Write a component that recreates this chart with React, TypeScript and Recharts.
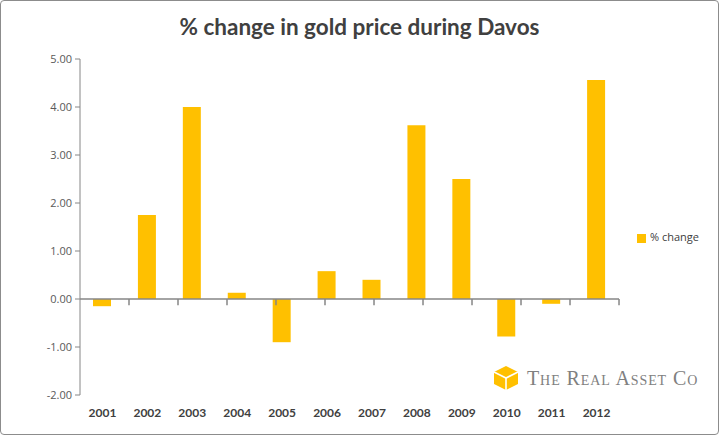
import React from 'react';
import { BarChart, Bar, XAxis, YAxis, Legend, ReferenceLine } from 'recharts';

const years = ['2001', '2002', '2003', '2004', '2005', '2006', '2007', '2008', '2009', '2010', '2011', '2012'];
const pctChange = [-0.15, 1.75, 4.0, 0.13, -0.9, 0.58, 0.4, 3.62, 2.5, -0.78, -0.1, 4.56];
const yTicks = [-2, -1, 0, 1, 2, 3, 4, 5];
const boundaries = [1, 2, 3, 4, 5, 6, 7, 8, 9, 10, 11, 12];

const data = years.map((year, i) => ({ year, change: pctChange[i] }));

const GOLD = '#FFC000';
const AXIS = '#868686';

const Logo = () => (
    <div style={{ position: 'absolute', left: 492, top: 365, display: 'flex', alignItems: 'center' }}>
        <svg width={28} height={26} viewBox="0 0 28 26">
            <polygon points="14,1 26,7 26,19 14,25 2,19 2,7" fill={GOLD} />
            <polyline points="2,7 14,13 26,7" fill="none" stroke="#fff" strokeWidth={1.6} />
            <line x1={14} y1={13} x2={14} y2={25} stroke="#fff" strokeWidth={1.6} />
        </svg>
        <span style={{ marginLeft: 7, fontFamily: '"Liberation Serif", serif', fontVariant: 'small-caps', fontSize: 20, color: '#808080', letterSpacing: 0.9 }}>
            The Real Asset Co
        </span>
    </div>
);

export default function App() {
    return (
        <div style={{ position: 'relative', width: 719, height: 435 }}>
            <style>{`body{margin:0}`}</style>
            <div style={{ position: 'absolute', left: 0, top: 0, width: 717, height: 433, border: '1px solid #8c8c8c', borderRadius: 4, background: '#fff' }} />
            <div style={{ position: 'absolute', left: 0, top: 13, width: 719, textAlign: 'center', fontFamily: 'Lato, sans-serif', fontWeight: 700, fontSize: 22.5, color: '#404040' }}>
                % change in gold price during Davos
            </div>
            <div style={{ position: 'absolute', left: 0, top: 0 }}>
                <BarChart width={719} height={435} data={data} margin={{ top: 59, right: 28, bottom: 0, left: 20 }} barSize={18}>
                    <XAxis dataKey="year" axisLine={false} tickLine={false} height={40} tickMargin={7}
                        tick={{ fill: '#404040', fontSize: 12, fontWeight: 700, fontFamily: 'Lato, sans-serif' }} />
                    <XAxis xAxisId="b" type="number" domain={[0, 12]} hide />
                    <YAxis domain={[-2, 5]} ticks={yTicks} width={60} tickFormatter={(v: number) => v.toFixed(2)}
                        stroke={AXIS} tickSize={5} tickMargin={3}
                        tick={{ fill: '#595959', fontSize: 11, fontFamily: '"Open Sans", sans-serif' }} />
                    <ReferenceLine y={0} stroke={AXIS} strokeWidth={1.5} />
                    {boundaries.map((b) => (
                        <ReferenceLine key={b} xAxisId="b" segment={[{ x: b, y: 0 }, { x: b, y: -0.13 }]} stroke={AXIS} strokeWidth={1.5} />
                    ))}
                    <Legend layout="vertical" align="right" verticalAlign="middle" iconType="square" iconSize={9}
                        wrapperStyle={{ right: 10, top: 229, fontSize: 11, fontFamily: '"Open Sans", sans-serif', color: '#404040' }}
                        formatter={(value: string) => <span style={{ color: '#404040' }}>{value}</span>} />
                    <Bar dataKey="change" name="% change" fill={GOLD} isAnimationActive={false} />
                </BarChart>
            </div>
            <Logo />
        </div>
    );
}
